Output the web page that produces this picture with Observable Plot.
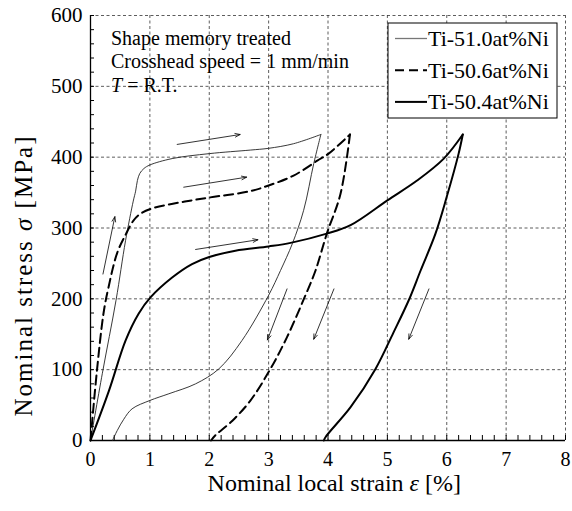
<!DOCTYPE html>
<html><head><meta charset="utf-8">
<script src="https://cdn.jsdelivr.net/npm/d3@7"></script>
<script src="https://cdn.jsdelivr.net/npm/@observablehq/plot@0.6"></script>
<style>
body{margin:0;background:#fff}
svg{display:block}
#chart svg text{font-family:'Liberation Serif','Times New Roman',serif !important;}
</style>
</head><body><div id="chart"></div>
<script>
// ---- data ----
const seriesNames = ["Ti-51.0at%Ni", "Ti-50.6at%Ni", "Ti-50.4at%Ni"];

const ti510Load = [[0,0],[0.2,95],[0.43,198],[0.59,282],[0.72,338],[0.76,352],[0.79,367],[0.83,377],[0.9,384],[1.0,389],[1.375,398],[2.0,405],[2.69,410],[3.0,412.5],[3.42,419],[3.88,432]];
const ti510Unload = [[3.88,432],[3.76,391],[3.59,325],[3.40,278],[3.2,240],[3.0,205],[2.55,141],[2.16,101],[1.77,80],[1.32,66],[1.0,56.5],[0.70,44.7],[0.56,30],[0.45,14],[0.37,0]];

const ti506Load = [[0,0],[0.11,100],[0.22,180],[0.3,215],[0.45,265],[0.6,292],[0.72,310],[0.84,320],[1.05,328],[1.5,336],[2.0,343],[2.69,352],[3.0,360],[3.42,374],[3.82,395],[4.01,405],[4.37,432]];
const ti506Unload = [[4.37,432],[4.21,348],[3.98,292],[3.79,240],[3.62,205],[3.31,146],[3.03,101],[2.69,56],[2.39,28],[2.1,7],[2.03,0]];

const ti504Load = [[0,0],[0.31,70],[0.59,141],[0.81,179],[1.01,202],[1.375,230],[1.71,249],[2.0,259],[2.44,268],[3.0,274],[3.37,279],[3.98,292],[4.38,304],[5.0,339],[5.5,367],[5.95,398],[6.27,432]];
const ti504Unload = [[6.27,432],[6.2,405],[6.0,344],[5.81,292],[5.56,240],[5.36,198],[5.1,152],[4.80,101],[4.38,47],[3.96,5],[3.93,0]];

// arrows: [x1, y1, x2, y2]
const arrowData = [
  [0.21,235,0.41,316],
  [1.46,418,2.52,432],
  [1.57,357.6,2.63,371.8],
  [1.77,269.7,2.82,283.4],
  [3.31,214,2.98,142],
  [4.10,214,3.76,143],
  [5.70,214,5.36,143]
];

const xTicks = [0,1,2,3,4,5,6,7,8];
const yTicks = [0,100,200,300,400,500,600];
const xMinor = d3.range(0, 40.5, 1).map(i => i * 0.2);
const yMinor = d3.range(0, 30.5, 1).map(i => i * 20);

const annotLines = ["Shape memory treated", "Crosshead speed = 1 mm/min", "T = R.T."];
const xLabel = "Nominal local strain ";
const yLabel = "Nominal stress ";

// ---- build tables ----
function rows(name, load, unload) {
  return [
    ...load.map(([x, y]) => ({series: name, branch: "load", x, y})),
    ...unload.map(([x, y]) => ({series: name, branch: "unload", x, y}))
  ];
}
const d510 = rows(seriesNames[0], ti510Load, ti510Unload);
const d506 = rows(seriesNames[1], ti506Load, ti506Unload);
const d504 = rows(seriesNames[2], ti504Load, ti504Unload);
const arrows = arrowData.map(([x1, y1, x2, y2]) => ({x1, y1, x2, y2}));

const FONT = "'Liberation Serif', 'Times New Roman', serif";
const grid = {stroke: "#333", strokeWidth: 0.8, strokeDasharray: "3,2.5"};
const styles = [
  {stroke: "#222", strokeWidth: 0.9},
  {stroke: "#000", strokeWidth: 2, strokeDasharray: "9,5"},
  {stroke: "#000", strokeWidth: 2}
];

const plot = Plot.plot({
  width: 572, height: 511,
  marginLeft: 90, marginRight: 7, marginTop: 15, marginBottom: 71,
  style: {fontFamily: FONT, background: "#fff"},
  x: {domain: [0, 8]},
  y: {domain: [0, 600]},
  marks: [
    Plot.ruleX(xTicks.filter(d => d > 0), grid),
    Plot.ruleY(yTicks.filter(d => d > 0), grid),
    Plot.ruleX(xMinor, {x: d => d, insetTop: 420, stroke: "#000", strokeWidth: 1}),
    Plot.ruleY(yMinor, {y: d => d, insetRight: 471, stroke: "#000", strokeWidth: 1}),
    Plot.ruleX([0], {stroke: "#000", strokeWidth: 1.3}),
    Plot.ruleY([0], {stroke: "#000", strokeWidth: 1.3}),
    Plot.line(d510, {x: "x", y: "y", z: "branch", curve: "catmull-rom", ...styles[0]}),
    Plot.line(d506, {x: "x", y: "y", z: "branch", curve: "catmull-rom", ...styles[1]}),
    Plot.line(d504, {x: "x", y: "y", z: "branch", curve: "catmull-rom", ...styles[2]}),
    Plot.arrow(arrows, {x1: "x1", y1: "y1", x2: "x2", y2: "y2", headLength: 10, headAngle: 40, strokeWidth: 0.8, stroke: "#000"}),
    Plot.axisX({ticks: xTicks, tickSize: 0, tickPadding: 11, fontSize: 20, label: null, tickFormat: d => String(d)}),
    Plot.axisY({ticks: yTicks, tickSize: 0, tickPadding: 8, fontSize: 21, label: null, tickFormat: d => String(d)})
  ]
});
document.getElementById("chart").appendChild(plot);

// ---- titles, annotation, legend ----
const svg = d3.select(plot);
const sx = plot.scale("x"), sy = plot.scale("y");
const fLeft = sx.apply(0), fRight = sx.apply(8), fTop = sy.apply(600), fBottom = sy.apply(0);

const xt = svg.append("text").attr("x", 461).attr("y", 491)
  .attr("text-anchor", "end").attr("font-size", 24).attr("fill", "#000");
xt.append("tspan").text(xLabel);
xt.append("tspan").attr("font-style", "italic").text("ε");
xt.append("tspan").text(" [%]");

const yt = svg.append("text").attr("transform", `translate(32,${(fTop + fBottom) / 2 + 48}) rotate(-90)`)
  .attr("text-anchor", "middle").attr("font-size", 25).attr("letter-spacing", 2).attr("fill", "#000");
yt.append("tspan").text(yLabel);
yt.append("tspan").attr("font-style", "italic").text("σ");
yt.append("tspan").text(" [MPa]");

const ann = svg.append("g").attr("font-size", 20).attr("fill", "#000").attr("text-anchor", "start");
ann.append("text").attr("x", fLeft + 21).attr("y", fTop + 30).text(annotLines[0]);
ann.append("text").attr("x", fLeft + 21).attr("y", fTop + 53).text(annotLines[1]);
const t3 = ann.append("text").attr("x", fLeft + 21).attr("y", fTop + 77);
t3.append("tspan").attr("font-style", "italic").text("T");
t3.append("tspan").text(annotLines[2].slice(1));

const lg = svg.append("g").attr("font-size", 22).attr("text-anchor", "start");
const bx = 388, by = fTop + 8, bw = 169, bh = 95;
lg.append("rect").attr("x", bx).attr("y", by).attr("width", bw).attr("height", bh)
  .attr("fill", "#fff").attr("stroke", "#000").attr("stroke-width", 1);
seriesNames.forEach((name, i) => {
  const cy = by + 15.5 + i * 31.7;
  const s = styles[i];
  lg.append("line").attr("x1", bx + 7).attr("x2", bx + 39).attr("y1", cy).attr("y2", cy)
    .attr("stroke", i === 0 ? "#777" : s.stroke).attr("stroke-width", i === 0 ? 1.3 : s.strokeWidth)
    .attr("stroke-dasharray", s.strokeDasharray || null);
  lg.append("text").attr("x", bx + 40).attr("y", cy + 7.5).attr("fill", "#000").text(name);
});
</script></body></html>
